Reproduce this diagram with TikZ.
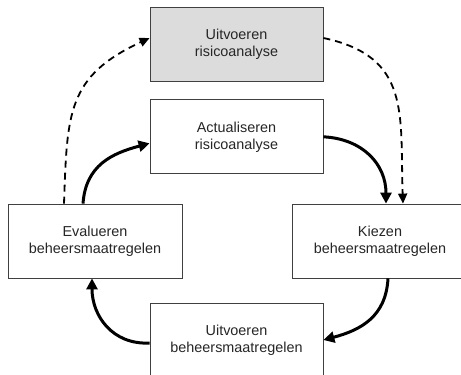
\documentclass[tikz,border=0pt]{standalone}
\usepackage{fontspec}
\setmainfont{Liberation Sans}
\usetikzlibrary{positioning,arrows.meta}
\definecolor{BoxGray}{HTML}{DCDCDC}

\begin{document}
\begin{tikzpicture}[x=1pt, y=1pt,
  stap/.style={draw=black!75, line width=0.8pt, fill=white, minimum width=173pt, minimum height=74pt, align=center, font=\fontsize{14.4}{17}\selectfont, text=black!85},
  cyclus/.style={-{Triangle[length=11pt,width=11pt]}, line width=3pt},
  extern/.style={-{Triangle[length=10pt,width=9pt]}, line width=1.8pt, dash pattern=on 7pt off 5pt},
  node distance=18pt]
\useasboundingbox (0,0) rectangle (461,-375);
\clip (0,0) rectangle (461,-375);
\node[stap, fill=BoxGray] (risico) at (236.5,-44) {Uitvoeren\\risicoanalyse};
\node[stap, below=of risico] (actueel) {Actualiseren\\risicoanalyse};
\node[stap, minimum width=174pt] (evalueren) at (95,-241) {Evalueren\\beheersmaatregelen};
\node[stap, minimum width=176pt] (kiezen) at (380,-241) {Kiezen\\beheersmaatregelen};
\node[stap] (uitvoeren) at (236.5,-340) {Uitvoeren\\beheersmaatregelen};
% dashed: via the full risk analysis
\draw[extern] ([xshift=-31pt]evalueren.north) to[out=88, in=205, looseness=1.25] ([yshift=6pt]risico.west);
\draw[extern] ([yshift=6pt]risico.east) to[out=-12, in=92, looseness=1.25] ([xshift=23pt]kiezen.north);
% the cycle
\draw[cyclus] ([xshift=-12pt]evalueren.north) to[out=86, in=195, looseness=1.1] ([yshift=-6.5pt]actueel.west);
\draw[cyclus] (actueel.east) to[out=-3, in=90, looseness=1.1] ([xshift=6pt]kiezen.north);
\draw[cyclus] ([xshift=8pt]kiezen.south) to[out=-93, in=15, looseness=1.1] (uitvoeren.east);
\draw[cyclus] ([yshift=-3pt]uitvoeren.west) to[out=183, in=-90, looseness=1.1] ([xshift=-3pt]evalueren.south);
\end{tikzpicture}
\end{document}
